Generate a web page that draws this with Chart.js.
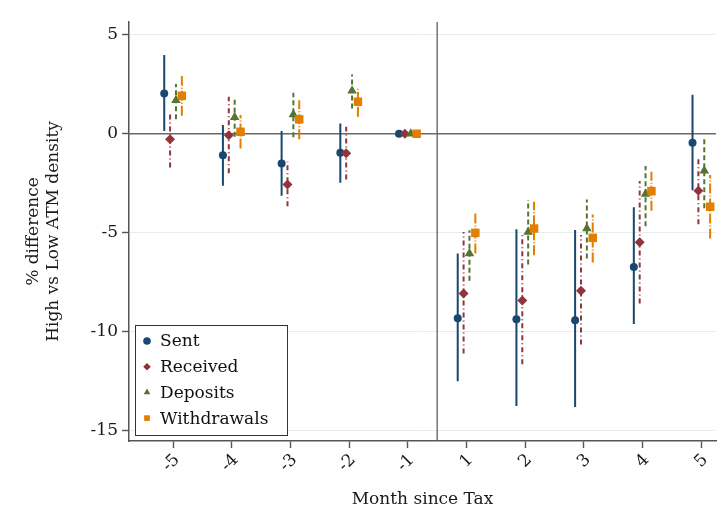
<!DOCTYPE html>
<html>
<head>
<meta charset="utf-8">
<script src="https://cdn.jsdelivr.net/npm/chart.js@4.4.1/dist/chart.umd.min.js"></script>
<style>
  html, body { margin: 0; padding: 0; background: #fff; }
  #chart { display: block; }
</style>
</head>
<body>
<canvas id="chart" width="728" height="531"></canvas>
<script>
// months around the tax event (plotted at positions 0..9)
const months = ["-5", "-4", "-3", "-2", "-1", "1", "2", "3", "4", "5"];
const yTicks = [5, 0, -5, -10, -15];

const sentEst = [2.04, -1.09, -1.5, -0.96, 0, -9.32, -9.37, -9.42, -6.73, -0.45];
const sentLo = [0.14, -2.63, -3.13, -2.48, 0, -12.51, -13.76, -13.81, -9.61, -2.85];
const sentHi = [3.98, 0.44, 0.14, 0.52, 0, -6.05, -4.82, -4.87, -3.72, 1.97];

const receivedEst = [-0.28, -0.08, -2.56, -0.98, 0, -8.07, -8.43, -7.94, -5.48, -2.88];
const receivedLo = [-1.7, -2.0, -3.66, -2.31, 0, -11.11, -11.65, -10.65, -8.58, -4.57];
const receivedHi = [1.03, 1.87, -1.41, 0.36, 0, -4.96, -5.12, -5.12, -2.39, -1.13];

const depositsEst = [1.7, 0.83, 0.98, 2.18, 0, -6.05, -4.96, -4.79, -3.05, -1.87];
const depositsLo = [0.74, -0.15, -0.18, 1.28, 0, -7.43, -6.61, -6.3, -4.67, -3.77];
const depositsHi = [2.51, 1.74, 2.07, 3.0, 0, -4.88, -3.35, -3.32, -1.63, -0.15];

const withdrawalsEst = [1.92, 0.1, 0.73, 1.62, 0, -5.01, -4.79, -5.26, -2.9, -3.69];
const withdrawalsLo = [0.91, -0.74, -0.28, 0.86, 0, -6.05, -6.14, -6.51, -3.89, -5.29];
const withdrawalsHi = [2.92, 0.95, 1.7, 2.38, 0, -3.98, -3.44, -4.08, -1.92, -2.09];

const series = [
  { label: "Sent", est: sentEst, lo: sentLo, hi: sentHi, shift: -0.15,
    color: "#1a476f", dash: [], style: "circle", radius: 4 },
  { label: "Received", est: receivedEst, lo: receivedLo, hi: receivedHi, shift: -0.05,
    color: "#90353b", dash: [5, 3, 1, 3], style: "rectRot", radius: 5 },
  { label: "Deposits", est: depositsEst, lo: depositsLo, hi: depositsHi, shift: 0.05,
    color: "#55752f", dash: [5, 3], style: "triangle", radius: 5.5 },
  { label: "Withdrawals", est: withdrawalsEst, lo: withdrawalsLo, hi: withdrawalsHi, shift: 0.15,
    color: "#e37e00", dash: [10, 2, 1, 2], style: "rect", radius: 6 },
];

const datasets = [];
series.forEach((s, k) => {
  // confidence interval spikes: pairs of points broken by nulls
  const ci = [];
  months.forEach((m, i) => {
    const x = i + s.shift;
    ci.push({ x: x, y: s.lo[i] }, { x: x, y: s.hi[i] }, { x: x, y: null });
  });
  datasets.push({
    type: "line",
    label: s.label + " CI",
    data: ci,
    borderColor: s.color,
    borderWidth: 2,
    borderDash: s.dash,
    pointRadius: 0,
    spanGaps: false,
    fill: false,
    order: 20 - k,
  });
  datasets.push({
    type: "scatter",
    label: s.label,
    data: months.map((m, i) => ({ x: i + s.shift, y: s.est[i] })),
    pointStyle: s.style,
    pointRadius: s.radius,
    pointBackgroundColor: s.color,
    pointBorderWidth: 0,
    order: 4 - k,
  });
});

const refLines = {
  id: "refLines",
  beforeDatasetsDraw(chart) {
    const { ctx, chartArea, scales } = chart;
    ctx.save();
    ctx.strokeStyle = "#6a6a6a";
    ctx.lineWidth = 1.4;
    const y0 = scales.y.getPixelForValue(0);
    ctx.beginPath();
    ctx.moveTo(chartArea.left, y0);
    ctx.lineTo(chartArea.right, y0);
    const xv = scales.x.getPixelForValue(4.5);
    ctx.moveTo(xv, chartArea.top);
    ctx.lineTo(xv, chartArea.bottom);
    ctx.stroke();
    ctx.restore();
  },
};

function drawMarker(ctx, style, x, y, r) {
  ctx.beginPath();
  if (style === "circle") {
    ctx.arc(x, y, r, 0, Math.PI * 2);
  } else if (style === "rectRot") {
    ctx.moveTo(x, y - r); ctx.lineTo(x + r, y); ctx.lineTo(x, y + r); ctx.lineTo(x - r, y);
    ctx.closePath();
  } else if (style === "triangle") {
    ctx.moveTo(x, y - r); ctx.lineTo(x + r * 0.87, y + r * 0.5); ctx.lineTo(x - r * 0.87, y + r * 0.5);
    ctx.closePath();
  } else {
    ctx.rect(x - r * 0.75, y - r * 0.75, r * 1.5, r * 1.5);
  }
  ctx.fill();
}

const boxLegend = {
  id: "boxLegend",
  afterDraw(chart) {
    const { ctx, chartArea } = chart;
    const w = 152, h = 110;
    const left = chartArea.left + 6, top = chartArea.bottom - 6 - h;
    ctx.save();
    ctx.fillStyle = "#fff";
    ctx.fillRect(left, top, w, h);
    ctx.strokeStyle = "#333";
    ctx.lineWidth = 1;
    ctx.strokeRect(left + 0.5, top + 0.5, w, h);
    ctx.font = "17px 'DejaVu Serif'";
    ctx.textBaseline = "middle";
    series.forEach((s, i) => {
      const y = top + 16 + i * 25.7;
      ctx.fillStyle = s.color;
      drawMarker(ctx, s.style, left + 12, y, 3.8);
      ctx.fillStyle = "#111";
      ctx.fillText(s.label, left + 25, y + 1);
    });
    ctx.restore();
  },
};

Chart.defaults.font.family = "'DejaVu Serif', serif";
Chart.defaults.font.size = 17;
Chart.defaults.color = "#1a1a1a";

new Chart(document.getElementById("chart"), {
  data: { datasets: datasets },
  options: {
    responsive: false,
    animation: false,
    devicePixelRatio: 1,
    layout: { padding: { left: 0, top: 22, right: 12, bottom: 0 } },
    plugins: {
      legend: { display: false },
      tooltip: { enabled: false },
    },
    scales: {
      x: {
        type: "linear",
        min: -0.75,
        max: 9.25,
        afterBuildTicks: (scale) => {
          scale.ticks = months.map((m, i) => ({ value: i }));
        },
        afterFit: (scale) => { scale.height = 90; },
        ticks: {
          callback: (v) => months[v],
          maxRotation: 45,
          minRotation: 45,
          padding: 2,
          labelOffset: 4,
          autoSkip: false,
        },
        grid: { color: "rgba(0,0,0,0)", tickColor: "#555", tickLength: 7, tickWidth: 1.4 },
        border: { color: "#555", width: 1.5 },
        title: { display: true, text: "Month since Tax", padding: { top: 0, bottom: 21 } },
      },
      y: {
        min: -15.53,
        max: 5.65,
        afterBuildTicks: (scale) => {
          scale.ticks = yTicks.map((v) => ({ value: v }));
        },
        afterFit: (scale) => { scale.width = 129; },
        ticks: { padding: 4 },
        grid: { color: "#e4edf0", tickColor: "#555", tickLength: 7, tickWidth: 1.4 },
        border: { color: "#555", width: 1.5 },
        title: {
          display: true,
          text: ["% difference", "High vs Low ATM density"],
          padding: { top: 23, bottom: 0 },
        },
      },
    },
  },
  plugins: [refLines, boxLegend],
});
</script>
</body>
</html>
